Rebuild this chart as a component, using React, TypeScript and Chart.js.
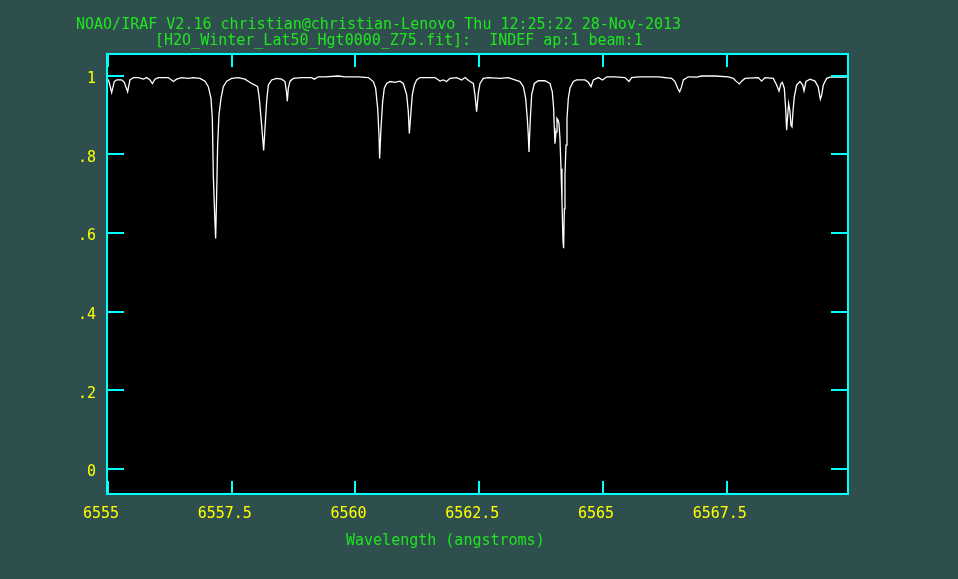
import React, { useEffect, useRef } from "react";
import { Chart, registerables } from "chart.js";

Chart.register(...registerables);

// Spectrum (wavelength in angstroms, normalised flux)
const WAVELENGTH = [
  6554.993, 6555.02, 6555.074, 6555.128, 6555.175, 6555.276, 6555.33, 6555.397, 6555.444, 6555.512,
  6555.613, 6555.714, 6555.781, 6555.848, 6555.896, 6555.949, 6556.017, 6556.219, 6556.32, 6556.387,
  6556.488, 6556.623, 6556.724, 6556.859, 6556.96, 6557.027, 6557.081, 6557.108, 6557.128, 6557.162,
  6557.175, 6557.195, 6557.215, 6557.242, 6557.283, 6557.33, 6557.397, 6557.498, 6557.633, 6557.768,
  6557.902, 6557.97, 6558.024, 6558.057, 6558.104, 6558.145, 6558.172, 6558.205, 6558.239, 6558.306,
  6558.407, 6558.508, 6558.576, 6558.609, 6558.623, 6558.643, 6558.677, 6558.744, 6558.912, 6559.114,
  6559.168, 6559.249, 6559.384, 6559.653, 6559.788, 6560.057, 6560.259, 6560.36, 6560.407, 6560.448,
  6560.475, 6560.488, 6560.515, 6560.549, 6560.582, 6560.629, 6560.697, 6560.798, 6560.899, 6560.966,
  6561.034, 6561.067, 6561.088, 6561.121, 6561.148, 6561.189, 6561.236, 6561.303, 6561.606, 6561.707,
  6561.774, 6561.842, 6561.909, 6562.044, 6562.145, 6562.212, 6562.313, 6562.381, 6562.414, 6562.448,
  6562.481, 6562.515, 6562.582, 6562.683, 6562.919, 6563.087, 6563.222, 6563.323, 6563.391, 6563.438,
  6563.471, 6563.491, 6563.505, 6563.532, 6563.559, 6563.613, 6563.694, 6563.828, 6563.929, 6563.976,
  6564.003, 6564.017, 6564.03, 6564.051, 6564.071, 6564.091, 6564.111, 6564.131, 6564.152, 6564.172,
  6564.192, 6564.205, 6564.219, 6564.232, 6564.253, 6564.273, 6564.3, 6564.333, 6564.401, 6564.468,
  6564.636, 6564.704, 6564.758, 6564.805, 6564.906, 6564.993, 6565.074, 6565.242, 6565.444, 6565.525,
  6565.579, 6565.714, 6566.118, 6566.387, 6566.455, 6566.509, 6566.549, 6566.589, 6566.623, 6566.724,
  6566.892, 6566.993, 6567.263, 6567.532, 6567.633, 6567.687, 6567.754, 6567.801, 6567.869, 6568.138,
  6568.205, 6568.273, 6568.441, 6568.508, 6568.556, 6568.596, 6568.623, 6568.663, 6568.69, 6568.71,
  6568.737, 6568.751, 6568.778, 6568.798, 6568.818, 6568.838, 6568.865, 6568.912, 6568.98, 6569.034,
  6569.061, 6569.101, 6569.182, 6569.283, 6569.347, 6569.391, 6569.418, 6569.451, 6569.519, 6569.586,
  6569.923,
];

const FLUX = [
  0.991, 0.985, 0.957, 0.985, 0.989, 0.989, 0.983, 0.959, 0.989, 0.995,
  0.995, 0.991, 0.995, 0.989, 0.98, 0.991, 0.995, 0.995, 0.985, 0.991,
  0.995, 0.993, 0.995, 0.993, 0.986, 0.972, 0.942, 0.891, 0.746, 0.623,
  0.586, 0.695, 0.823, 0.9, 0.942, 0.972, 0.986, 0.993, 0.995, 0.991,
  0.98, 0.976, 0.972, 0.942, 0.874, 0.81, 0.866, 0.934, 0.976, 0.989,
  0.993, 0.991, 0.985, 0.955, 0.935, 0.968, 0.986, 0.993, 0.995, 0.995,
  0.991, 0.997, 0.997, 0.999, 0.997, 0.997, 0.995, 0.985, 0.968, 0.917,
  0.849, 0.789, 0.866, 0.934, 0.968, 0.98, 0.985, 0.983, 0.986, 0.98,
  0.951, 0.908, 0.853, 0.908, 0.951, 0.976, 0.989, 0.995, 0.995, 0.986,
  0.989, 0.985, 0.993, 0.995, 0.989, 0.995, 0.985, 0.98, 0.951, 0.908,
  0.955, 0.98, 0.993, 0.995, 0.993, 0.995, 0.989, 0.985, 0.972, 0.942,
  0.891, 0.849, 0.806, 0.891, 0.951, 0.98, 0.987, 0.987, 0.98, 0.959,
  0.917, 0.866, 0.827, 0.857, 0.891, 0.887, 0.878, 0.84, 0.763, 0.678,
  0.58, 0.561, 0.661, 0.746, 0.823, 0.891, 0.942, 0.968, 0.985, 0.989,
  0.989, 0.983, 0.972, 0.989, 0.995, 0.989, 0.997, 0.997, 0.995, 0.985,
  0.995, 0.997, 0.997, 0.993, 0.985, 0.968, 0.959, 0.972, 0.989, 0.997,
  0.996, 0.999, 0.999, 0.997, 0.993, 0.986, 0.979, 0.986, 0.993, 0.995,
  0.986, 0.995, 0.993, 0.976, 0.961, 0.98, 0.983, 0.968, 0.917, 0.861,
  0.908, 0.929, 0.908, 0.874, 0.87, 0.908, 0.946, 0.976, 0.985, 0.976,
  0.961, 0.985, 0.991, 0.986, 0.972, 0.94, 0.951, 0.976, 0.993, 0.996,
  0.996,
];

const X_RANGE = [6554.98, 6569.95];
const Y_RANGE = [-0.064, 1.055];
const X_TICKS = [6555, 6557.5, 6560, 6562.5, 6565, 6567.5];
const X_TICK_LABELS = ["6555", "6557.5", "6560", "6562.5", "6565", "6567.5"];
const Y_TICKS = [0, 0.2, 0.4, 0.6, 0.8, 1];
const Y_TICK_LABELS = ["0", ".2", ".4", ".6", ".8", "1"];

const TITLE_LINE_1 = "NOAO/IRAF V2.16 christian@christian-Lenovo Thu 12:25:22 28-Nov-2013";
const TITLE_LINE_2 = "[H2O_Winter_Lat50_Hgt0000_Z75.fit]:  INDEF ap:1 beam:1";
const X_AXIS_LABEL = "Wavelength (angstroms)";

const BG = "#2f4f4f";
const CYAN = "#00ffff";
const YELLOW = "#ffff00";
const GREEN = "#1ee61e";
const FONT_FAMILY = "'DejaVu Sans Mono', 'Liberation Mono', monospace";
const FONT_SIZE = 15;

const irafPlugin = {
  id: "irafFrame",
  beforeDraw(chart: any) {
    const { ctx, chartArea: a, width, height } = chart;
    ctx.save();
    ctx.fillStyle = BG;
    ctx.fillRect(0, 0, width, height);
    ctx.fillStyle = "#000000";
    ctx.fillRect(a.left, a.top, a.right - a.left, a.bottom - a.top);
    ctx.restore();
  },
  afterDraw(chart: any) {
    const { ctx, chartArea: a, scales } = chart;
    ctx.save();
    ctx.strokeStyle = CYAN;
    ctx.lineWidth = 2;
    ctx.strokeRect(a.left, a.top, a.right - a.left, a.bottom - a.top);
    ctx.beginPath();
    for (const v of Y_TICKS) {
      const y = Math.round(scales.y.getPixelForValue(v));
      ctx.moveTo(a.left, y);
      ctx.lineTo(a.left + 17, y);
      ctx.moveTo(a.right, y);
      ctx.lineTo(a.right - 17, y);
    }
    for (const v of X_TICKS) {
      const x = Math.round(scales.x.getPixelForValue(v));
      ctx.moveTo(x, a.bottom);
      ctx.lineTo(x, a.bottom - 13);
      ctx.moveTo(x, a.top);
      ctx.lineTo(x, a.top + 13);
    }
    ctx.stroke();

    ctx.fillStyle = GREEN;
    ctx.font = `${FONT_SIZE}px ${FONT_FAMILY}`;
    ctx.textAlign = "left";
    ctx.textBaseline = "alphabetic";
    ctx.fillText(TITLE_LINE_1, 76, 29);
    ctx.fillText(TITLE_LINE_2, 155, 45);
    ctx.fillText(X_AXIS_LABEL, 346, 545);
    ctx.restore();
  },
};

export default function App() {
  const canvasRef = useRef<HTMLCanvasElement | null>(null);

  useEffect(() => {
    const canvas = canvasRef.current;
    if (!canvas) return;
    const points = WAVELENGTH.map((w, i) => ({ x: w, y: FLUX[i] }));
    const tickFont = { family: FONT_FAMILY, size: FONT_SIZE };
    const chart = new Chart(canvas, {
      type: "line",
      data: {
        datasets: [
          {
            data: points,
            borderColor: "#ffffff",
            borderWidth: 1.3,
            pointRadius: 0,
            tension: 0,
            fill: false,
          },
        ],
      },
      options: {
        animation: false,
        responsive: false,
        devicePixelRatio: 1,
        layout: { padding: { top: 54, right: 110, left: 0, bottom: 0 } },
        plugins: {
          legend: { display: false },
          tooltip: { enabled: false },
          title: { display: false },
        },
        scales: {
          x: {
            type: "linear",
            min: X_RANGE[0],
            max: X_RANGE[1],
            afterBuildTicks: (s: any) => {
              s.ticks = X_TICKS.map((v) => ({ value: v }));
            },
            afterFit: (s: any) => {
              s.height = 85;
            },
            grid: { display: false, drawTicks: false },
            border: { display: false },
            ticks: {
              autoSkip: false,
              maxRotation: 0,
              minRotation: 0,
              color: YELLOW,
              font: tickFont,
              padding: 11,
              labelOffset: -7,
              callback: (_v: any, i: number) => X_TICK_LABELS[i],
            },
          },
          y: {
            type: "linear",
            min: Y_RANGE[0],
            max: Y_RANGE[1],
            afterBuildTicks: (s: any) => {
              s.ticks = Y_TICKS.map((v) => ({ value: v }));
            },
            afterFit: (s: any) => {
              s.width = 107;
            },
            grid: { display: false, drawTicks: false },
            border: { display: false },
            ticks: {
              autoSkip: false,
              color: YELLOW,
              font: tickFont,
              padding: 11,
              labelOffset: 3.5,
              callback: (_v: any, i: number) => Y_TICK_LABELS[i],
            },
          },
        },
      },
      plugins: [irafPlugin],
    } as any);
    return () => chart.destroy();
  }, []);

  return (
    <div
      style={{
        position: "absolute",
        left: 0,
        top: 0,
        width: 958,
        height: 579,
        background: BG,
        overflow: "hidden",
      }}
    >
      <canvas ref={canvasRef} width={958} height={579} style={{ display: "block", width: 958, height: 579 }} />
    </div>
  );
}
